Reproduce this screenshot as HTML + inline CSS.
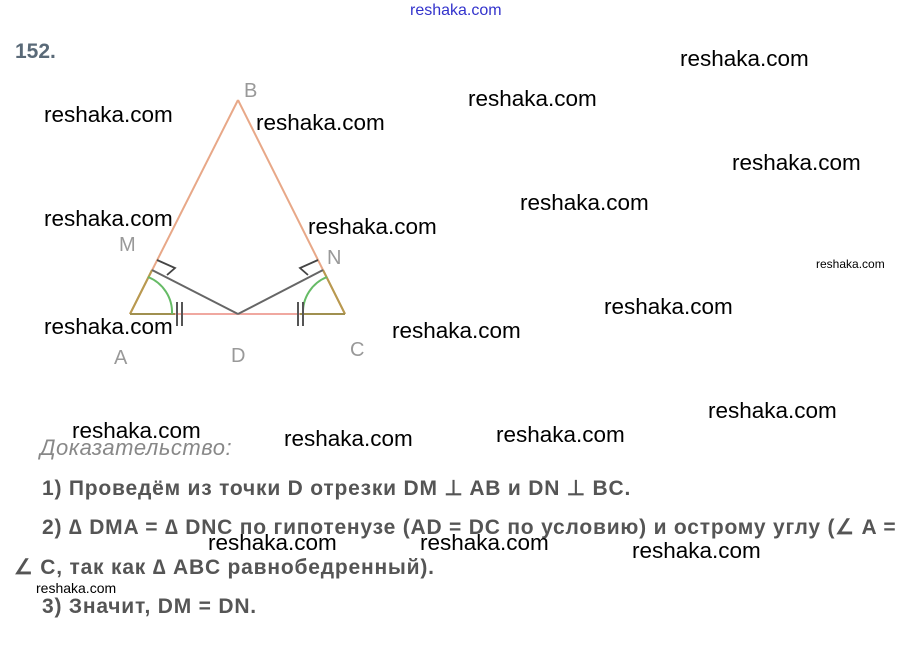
<!DOCTYPE html>
<html><head><meta charset="utf-8"><style>
body{margin:0;width:916px;height:646px;background:#fff;position:relative;overflow:hidden;font-family:"Liberation Sans",sans-serif}
.w{position:absolute;font-size:22.5px;color:#000;font-family:"Liberation Sans",sans-serif;white-space:nowrap}
.t{position:absolute;font-size:21px;letter-spacing:0.8px;font-weight:bold;color:#555;white-space:nowrap}
.s{position:absolute;font-size:12px;color:#000}
</style></head><body>
<div style="position:absolute;left:410px;top:2px;font-size:16px;color:#33c;">reshaka.com</div>
<div style="position:absolute;left:15px;top:40px;font-size:21px;font-weight:bold;color:#5a6a78">152.</div>
<svg width="916" height="646" style="position:absolute;left:0;top:0">
<g fill="none">
<line x1="130" y1="314" x2="238" y2="100" stroke="#e8a888" stroke-width="2"/>
<line x1="345" y1="314" x2="238" y2="100" stroke="#e8a888" stroke-width="2"/>
<line x1="130" y1="314" x2="345" y2="314" stroke="#f0a8a0" stroke-width="2"/>
<line x1="130" y1="314" x2="152" y2="270" stroke="#b89a50" stroke-width="2"/>
<line x1="345" y1="314" x2="323" y2="270" stroke="#b89a50" stroke-width="2"/>
<line x1="130" y1="314" x2="175" y2="314" stroke="#a09050" stroke-width="2"/>
<line x1="300" y1="314" x2="345" y2="314" stroke="#a09050" stroke-width="2"/>
<line x1="152" y1="270" x2="238" y2="314" stroke="#666" stroke-width="2"/>
<line x1="323" y1="270" x2="238" y2="314" stroke="#666" stroke-width="2"/>
<polyline points="157,260 175,268 167,275" stroke="#444" stroke-width="1.8"/>
<polyline points="318,260 300,268 308,275" stroke="#444" stroke-width="1.8"/>
<path d="M148,277 A38,38 0 0 1 172,314" stroke="#6b6" stroke-width="2"/>
<path d="M327,277 A38,38 0 0 0 303,314" stroke="#6b6" stroke-width="2"/>
<line x1="177" y1="302" x2="177" y2="326" stroke="#555" stroke-width="2"/>
<line x1="182" y1="302" x2="182" y2="326" stroke="#555" stroke-width="2"/>
<line x1="298" y1="302" x2="298" y2="326" stroke="#555" stroke-width="2"/>
<line x1="303" y1="302" x2="303" y2="326" stroke="#555" stroke-width="2"/>
</g>
<g font-family="Liberation Sans" font-size="20" fill="#999">
<text x="244" y="97">B</text><text x="119" y="251">M</text><text x="327" y="264">N</text>
<text x="114" y="364">A</text><text x="231" y="362">D</text><text x="350" y="356">C</text>
</g>
</svg>
<div class="t" style="left:40px;top:435px;font-style:italic;font-weight:normal;color:#888;font-size:22px;letter-spacing:0.5px">Доказательство:</div>
<div class="t" style="left:42px;top:476px">1) Проведём из точки D отрезки DM ⊥ AB и DN ⊥ BC.</div>
<div class="t" style="left:42px;top:515px">2) ∆ DMA = ∆ DNC по гипотенузе (AD = DC по условию) и острому углу (∠ A =</div>
<div class="t" style="left:14px;top:555px">∠ C, так как ∆ ABC равнобедренный).</div>
<div class="t" style="left:42px;top:595px">3) Значит, DM = DN.</div>
<div class="w" style="left:680px;top:46px">reshaka.com</div>
<div class="w" style="left:44px;top:102px">reshaka.com</div>
<div class="w" style="left:468px;top:86px">reshaka.com</div>
<div class="w" style="left:256px;top:110px">reshaka.com</div>
<div class="w" style="left:732px;top:150px">reshaka.com</div>
<div class="w" style="left:520px;top:190px">reshaka.com</div>
<div class="w" style="left:44px;top:206px">reshaka.com</div>
<div class="w" style="left:308px;top:214px">reshaka.com</div>
<div class="s" style="left:816px;top:257px">reshaka.com</div>
<div class="w" style="left:604px;top:294px">reshaka.com</div>
<div class="w" style="left:44px;top:314px">reshaka.com</div>
<div class="w" style="left:392px;top:318px">reshaka.com</div>
<div class="w" style="left:708px;top:398px">reshaka.com</div>
<div class="w" style="left:72px;top:418px">reshaka.com</div>
<div class="w" style="left:284px;top:426px">reshaka.com</div>
<div class="w" style="left:496px;top:422px">reshaka.com</div>
<div class="w" style="left:208px;top:530px">reshaka.com</div>
<div class="w" style="left:420px;top:530px">reshaka.com</div>
<div class="w" style="left:632px;top:538px">reshaka.com</div>
<div class="s" style="left:36px;top:580px;font-size:14px">reshaka.com</div>
</body></html>
